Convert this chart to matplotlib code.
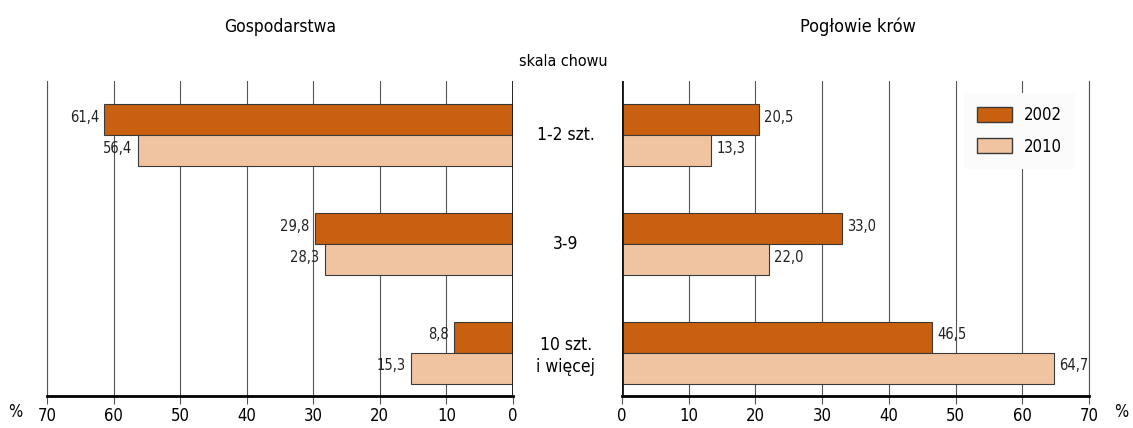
import numpy as np
import matplotlib.pyplot as plt
from matplotlib.patches import Patch

categories = ["1-2 szt.", "3-9", "10 szt.\ni więcej"]
years = ["2002", "2010"]
gosp_2002 = [61.4, 29.8, 8.8]
gosp_2010 = [56.4, 28.3, 15.3]
krowy_2002 = [20.5, 33.0, 46.5]
krowy_2010 = [13.3, 22.0, 64.7]

C2002 = "#C8600F"
C2010 = "#F0C4A0"
EDGE = "#3a3a3a"
GRID = "#555555"

plt.rcParams["font.family"] = ["DejaVu Sans"]
plt.rcParams["font.stretch"] = "condensed"


def fmt(v):
    return f"{v:.1f}".replace(".", ",")


def draw(ax, v02, v10, left):
    y = np.arange(len(categories))
    h = 0.285
    ax.barh(y - h / 2, v02, height=h, color=C2002, edgecolor=EDGE, linewidth=0.8, zorder=3)
    ax.barh(y + h / 2, v10, height=h, color=C2010, edgecolor=EDGE, linewidth=0.8, zorder=3)
    for yy, a, b in zip(y, v02, v10):
        for val, off in ((a, -h / 2), (b, h / 2)):
            ax.text(val + 0.8, yy + off - 0.02, fmt(val), ha="right" if left else "left",
                    va="center", fontsize=10.5, color="#222")
    ax.set_xlim(0, 70)
    if left:
        ax.invert_xaxis()
    ax.set_ylim(2.40, -0.50)
    ax.set_xticks(range(0, 71, 10))
    ax.set_yticks([])
    ax.grid(axis="x", color=GRID, linewidth=0.8, zorder=0)
    for s in ("top", "left", "right"):
        ax.spines[s].set_visible(False)
    ax.spines["bottom"].set_linewidth(2)
    ax.tick_params(axis="x", length=6, width=0.8, labelsize=12, pad=2, color=GRID)
    ax.axvline(0, color="#111", linewidth=2, zorder=4)
    ax.axvline(70, color=GRID, linewidth=0.8, zorder=0, clip_on=False)


fig = plt.figure(figsize=(11.33, 4.28), dpi=100)
ax1 = fig.add_axes([47 / 1133, 32 / 428, 466 / 1133, 315 / 428])
ax2 = fig.add_axes([622 / 1133, 32 / 428, 467 / 1133, 315 / 428])

draw(ax1, gosp_2002, gosp_2010, True)
draw(ax2, krowy_2002, krowy_2010, False)

fig.text(280 / 1133, 1 - 27 / 428, "Gospodarstwa", ha="center", va="center", fontsize=12.5)
fig.text(858 / 1133, 1 - 27 / 428, "Pogłowie krów", ha="center", va="center", fontsize=13)
fig.text(563 / 1133, 1 - 62 / 428, "skala chowu", ha="center", va="center", fontsize=11.5)

for i, cat in enumerate(categories):
    yd = ax1.transData.transform((0, i + 0.03 * (i == 2)))[1]
    fig.text(566 / 1133, fig.transFigure.inverted().transform((0, yd))[1], cat,
             ha="center", va="center", fontsize=12.5, linespacing=1.3)

fig.text(15 / 1133, 1 - 412 / 428, "%", ha="center", va="center", fontsize=12)
fig.text(1121 / 1133, 1 - 412 / 428, "%", ha="center", va="center", fontsize=12)

handles = [Patch(facecolor=C2002, edgecolor=EDGE, label=years[0]),
           Patch(facecolor=C2010, edgecolor=EDGE, label=years[1])]
leg = ax2.legend(handles=handles, loc="upper right", bbox_to_anchor=(0.970, 0.962),
                 borderaxespad=0, fontsize=12, frameon=True, fancybox=False,
                 handlelength=2.1, handleheight=1.0, labelspacing=0.8, borderpad=0.8,
                 handletextpad=0.7)
leg.get_frame().set_facecolor("#fbfbfb")
leg.get_frame().set_edgecolor("none")
leg.get_frame().set_alpha(1)

fig.savefig("out.png", dpi=100)
